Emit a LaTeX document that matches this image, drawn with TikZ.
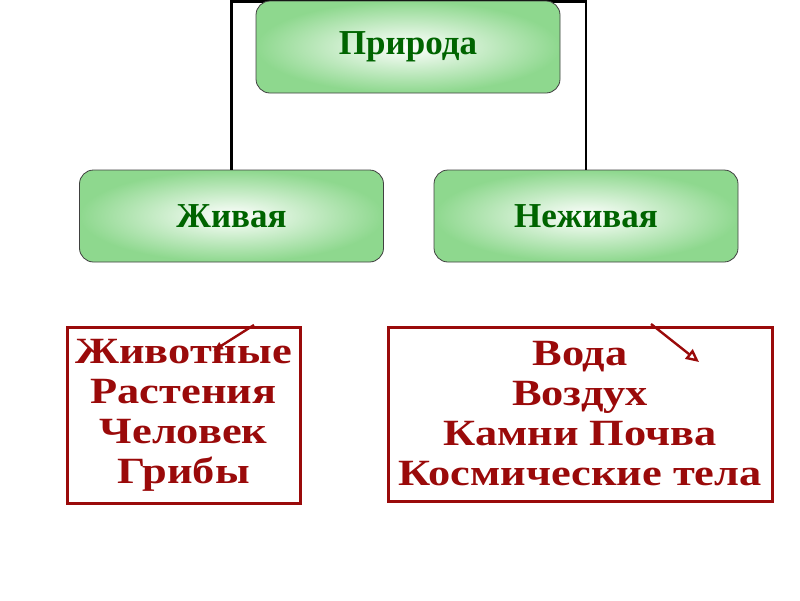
\documentclass[tikz,border=0pt]{standalone}
\usepackage{fontspec}
\setmainfont{Liberation Serif}
\newfontfamily\widefont{Liberation Serif}[FakeStretch=1.2]
\usepackage{tikz}
\usetikzlibrary{arrows.meta}
\usetikzlibrary{positioning}
\usetikzlibrary{calc}
\definecolor{leafgreen}{HTML}{8ED88E}
\definecolor{darkleaf}{HTML}{006400}
\definecolor{brickred}{HTML}{9A0A0A}
\tikzset{
  >=Latex,
  line/.style={draw, line width=2.4pt},
  redarrow/.style={draw=brickred, line width=2.4pt}
}

\begin{document}
\begin{tikzpicture}[x=1pt, y=-1pt]
    % Define styles
    \tikzstyle{block} = [rectangle, draw=black!75, line width=0.8pt, rounded corners=14pt, inner color=white, outer color=leafgreen, minimum width=304pt, minimum height=92pt, text=darkleaf, font=\fontsize{35}{38}\selectfont\bfseries]
    \tikzstyle{listbox} = [rectangle, draw=brickred, line width=3pt, text=brickred, align=center, font=\widefont\fontsize{37}{40}\selectfont\bfseries]

    \useasboundingbox (0,0) rectangle (800,600);

    % Connector behind the boxes
    \coordinate (top) at (408,1.5);
    \node [block] (zhivaya) at (231.5,216) {Живая};
    \node [block] (nezhivaya) at (586,216) {Неживая};
    \path [line] (zhivaya.north) |- (top) -| (nezhivaya.north);
    \node [block] (priroda) at (408,47) {Природа};

    % Lists
    \node [listbox, minimum width=233pt, minimum height=176pt] (alive) at (183.5,415) {Животные\\Растения\\Человек\\Грибы};
    \node [listbox, minimum width=384pt, minimum height=174pt] (lifeless) at (580,414) {Вода\\Воздух\\Камни Почва\\Космические тела};

    % Small arrows
    \coordinate (la) at (254,325);
    \coordinate (lb) at (213,351);
    \coordinate (ra) at (651,324);
    \coordinate (rb) at (699,362);
    \path [redarrow, -{Latex[length=10pt, width=9pt]}] (la) -- (lb);
    \path [redarrow, -{Triangle[open, length=13pt, width=12pt]}] (ra) -- (rb);
\end{tikzpicture}
\end{document}
